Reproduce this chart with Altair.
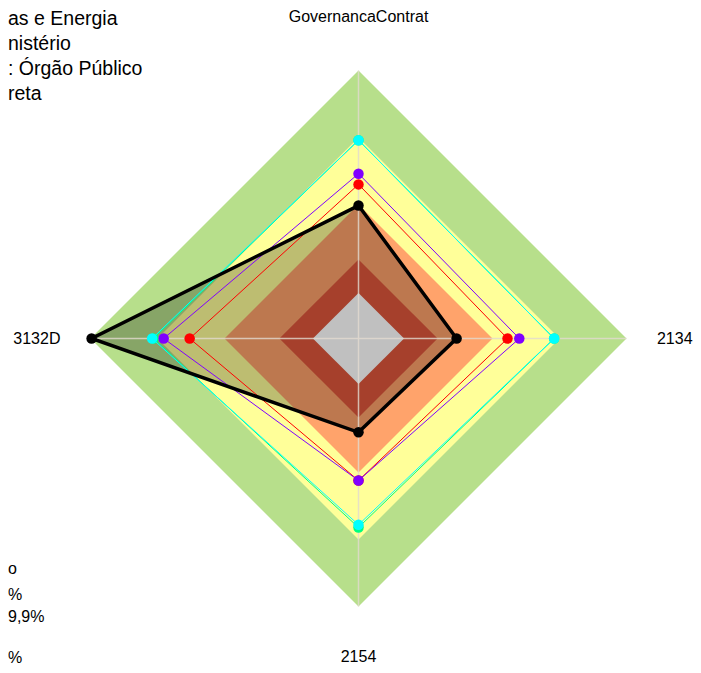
import altair as alt
import pandas as pd

# ---- data -------------------------------------------------------------
axis_labels = ["GovernancaContrat", "2134", "2154", "3132D"]  # clockwise from top
label_radius = [1.2, 1.18, 1.19, 1.2]
series_names = ["s_verde", "s_ciano", "s_vermelho", "s_roxo", "s_preto"]
series_colors = ["#00FF80", "#00FFFF", "#FF0000", "#8000FF", "#000000"]
series_widths = [1, 1, 1, 1, 3.5]
v_verde = [74.0, 73.0, 70.5, 76.5]
v_ciano = [74.0, 73.0, 69.5, 77.0]
v_vermelho = [57.5, 55.6, 53.0, 63.0]
v_roxo = [61.5, 60.0, 53.0, 72.7]
v_preto = [49.6, 36.6, 35.0, 99.6]
series_values = [v_verde, v_ciano, v_vermelho, v_roxo, v_preto]

band_limits = [100, 75, 50, 29.5, 17]
band_colors = ["#B7DF8B", "#FFFF99", "#FFA36B", "#A6402C", "#C0C0C0"]

title_lines = ["as e Energia", "nistério", ": Órgão Público", "reta"]
legend_lines = ["o", "%", "9,9%", "", "%"]

# ---- geometry / scales ---------------------------------------------------
W, H = 685, 657
CX, CY, R = 350.5, 330.5, 268.0
xs = alt.Scale(domain=[-CX / R, (W - CX) / R], nice=False, zero=False)
ys = alt.Scale(domain=[-(H - CY) / R, CY / R], nice=False, zero=False)


def X(field="x"):
    return alt.X(f"{field}:Q", scale=xs, axis=None)


def Y(field="y"):
    return alt.Y(f"{field}:Q", scale=ys, axis=None, stack=None)


def band_layer(limit, color):
    df = pd.DataFrame({"k": [-1, 0, 1], "lim": [limit] * 3})
    return (
        alt.Chart(df)
        .transform_calculate(
            x="datum.k * datum.lim / 100",
            ytop="(1 - abs(datum.k)) * datum.lim / 100",
            ybot="-(1 - abs(datum.k)) * datum.lim / 100",
        )
        .mark_area(color=color, opacity=1)
        .encode(x=X(), y=Y("ytop"), y2="ybot:Q")
    )


layers = []
for lim, col in zip(band_limits[:3], band_colors[:3]):
    layers.append(band_layer(lim, col))

# black series translucent fill
fill_df = pd.DataFrame(
    {
        "xv": [-v_preto[3], 0, v_preto[1]],
        "top": [0, v_preto[0], 0],
        "bot": [0, -v_preto[2], 0],
    }
)
layers.append(
    alt.Chart(fill_df)
    .transform_calculate(x="datum.xv / 100", ytop="datum.top / 100", ybot="datum.bot / 100")
    .mark_area(color="#000000", opacity=0.26)
    .encode(x=X(), y=Y("ytop"), y2="ybot:Q")
)

for lim, col in zip(band_limits[3:], band_colors[3:]):
    layers.append(band_layer(lim, col))

# axis spokes
spoke_df = pd.DataFrame({"i": list(range(len(axis_labels)))})
layers.append(
    alt.Chart(spoke_df)
    .transform_calculate(
        x="sin(datum.i * PI / 2)", y="cos(datum.i * PI / 2)", x0="0", y0="0"
    )
    .mark_rule(color="#E2DAD0", strokeWidth=1.5, opacity=0.8)
    .encode(x=X("x0"), y=Y("y0"), x2="x:Q", y2="y:Q")
)

# series lines and points
for name, col, w, vals in zip(series_names, series_colors, series_widths, series_values):
    rows = [{"k": k, "v": vals[k % 4]} for k in range(5)]
    df = pd.DataFrame(rows)
    base = alt.Chart(df).transform_calculate(
        x="datum.v / 100 * sin(datum.k * PI / 2)",
        y="datum.v / 100 * cos(datum.k * PI / 2)",
    )
    layers.append(
        base.mark_line(color=col, strokeWidth=w, strokeJoin="miter").encode(
            x=X(), y=Y(), order="k:Q"
        )
    )
    layers.append(
        base.transform_filter("datum.k < 4")
        .mark_circle(color=col, size=110, opacity=1)
        .encode(x=X(), y=Y())
    )

# axis labels
lab_df = pd.DataFrame({"i": list(range(len(axis_labels))), "label": axis_labels,
                       "rr": label_radius})
layers.append(
    alt.Chart(lab_df)
    .transform_calculate(x="datum.rr * sin(datum.i * PI / 2)",
                         y="datum.rr * cos(datum.i * PI / 2)")
    .mark_text(font="Liberation Sans", fontSize=16, color="#000000",
               align="center", baseline="middle")
    .encode(x=X(), y=Y(), text="label:N")
)

# cropped title (top-left)
layers.append(
    alt.Chart(pd.DataFrame({"a": [0]}))
    .mark_text(font="Liberation Sans", fontSize=19.5, color="#000000",
               align="left", baseline="alphabetic", lineHeight=25)
    .encode(x=alt.value(0), y=alt.value(17), text=alt.value(title_lines))
)

# cropped legend (bottom-left)
legend_y = [566, 592, 614, 634, 655]
for txt, yy in zip(legend_lines, legend_y):
    if txt:
        layers.append(
            alt.Chart(pd.DataFrame({"a": [0]}))
            .mark_text(font="Liberation Sans", fontSize=16, color="#000000",
                       align="left", baseline="alphabetic")
            .encode(x=alt.value(0), y=alt.value(yy), text=alt.value(txt))
        )

chart = (
    alt.layer(*layers)
    .properties(width=W, height=H, padding=0,
                autosize=alt.AutoSizeParams(type="none"))
    .configure_view(stroke=None)
)

chart.save("out.html", embed_options={"renderer": "svg", "actions": False})
